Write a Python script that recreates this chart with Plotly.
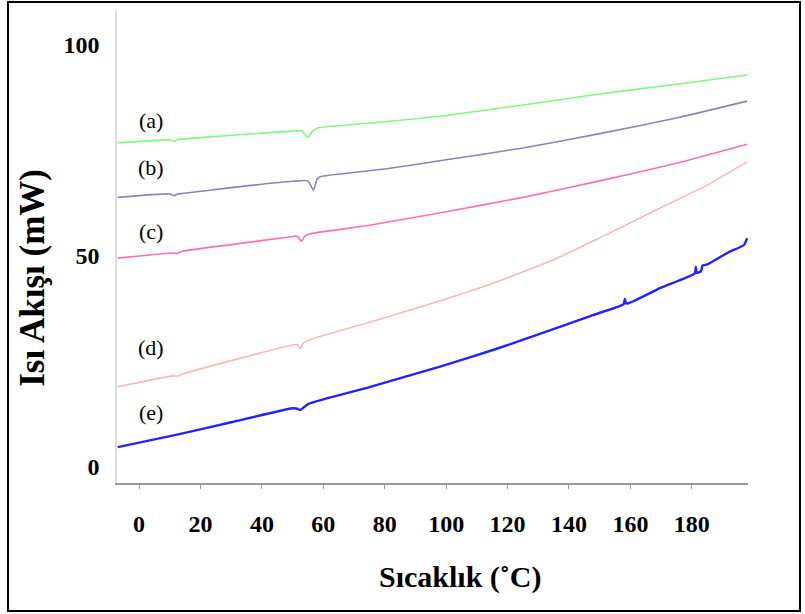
import plotly.graph_objects as go

# DSC heat-flow curves (a)-(e): temperature (°C) vs heat flow (mW)
temp_a = [-7, 10, 11.5, 12.5, 14, 30, 50, 53, 54.9, 56.5, 58, 80, 100, 125, 150, 175, 198]
flow_a = [76.8, 77.5, 77.2, 77.6, 77.7, 78.6, 79.6, 79.6, 78.1, 79.6, 80.3, 81.8, 83.3, 85.8, 88.4, 90.7, 92.9]

temp_b = [-7, 10, 11.5, 12.5, 14, 30, 50, 55, 56.8, 58, 59, 80, 100, 125, 150, 175, 198]
flow_b = [63.9, 64.7, 64.3, 64.7, 64.8, 66.2, 67.7, 67.8, 65.6, 68.3, 68.8, 70.6, 72.8, 75.6, 79.0, 82.7, 86.7]

temp_c = [-7, 11, 12.5, 14, 30, 50, 51.5, 52.8, 54, 55.4, 75, 100, 125, 150, 175, 198]
flow_c = [49.5, 50.7, 50.6, 51.1, 52.7, 54.6, 54.7, 53.5, 54.7, 55.2, 57.3, 60.5, 63.9, 67.8, 72.0, 76.5]

temp_d = [-7, 11, 12.5, 14, 30, 50, 51.5, 52.4, 53.5, 55.4, 75, 95, 115, 135, 150, 170, 185, 198]
flow_d = [19.0, 21.6, 21.5, 22.0, 25.2, 28.9, 29.0, 28.1, 29.4, 30.1, 34.3, 38.7, 43.5, 49.1, 54.3, 61.5, 66.8, 72.3]

temp_e = [-7, 12, 30, 50, 51.5, 52.5, 55, 75, 98, 116, 130, 147.8, 157.8, 158.2, 158.7,
          170, 181, 181.3, 181.6, 183, 183.5, 185, 192, 197, 198]
flow_e = [4.7, 7.6, 10.6, 13.9, 13.8, 13.5, 14.9, 18.9, 23.8, 27.9, 31.4, 36.0, 38.6, 39.8, 38.7,
          42.5, 45.9, 47.4, 46.0, 46.4, 47.7, 48.0, 50.9, 52.6, 54.2]

curve_labels = ["(a)", "(b)", "(c)", "(d)", "(e)"]
label_x = [3.9, 3.9, 3.9, 3.9, 3.9]
label_y = [82.2, 70.9, 55.9, 28.2, 12.8]

x_ticks = [0, 20, 40, 60, 80, 100, 120, 140, 160, 180]
y_ticks = [0, 50, 100]

series = [
    (temp_a, flow_a, "#80f880", 1.6),
    (temp_b, flow_b, "#8585c4", 1.6),
    (temp_c, flow_c, "#ff6fb4", 1.6),
    (temp_d, flow_d, "#ffb8b8", 1.6),
    (temp_e, flow_e, "#2222ff", 2.4),
]

fig = go.Figure()
for xs, ys, color, width in series:
    fig.add_trace(go.Scatter(x=xs, y=ys, mode="lines",
                             line=dict(color=color, width=width, shape="spline", smoothing=0.5),
                             hoverinfo="skip"))

serif = "'Liberation Serif'"

annotations = [
    dict(x=lx, y=ly, text=t, xref="x", yref="y", showarrow=False,
         xanchor="center", yanchor="middle",
         font=dict(family=serif, size=22, color="black"))
    for t, lx, ly in zip(curve_labels, label_x, label_y)
]
annotations.append(dict(x=0.5436, y=-0.199, xref="paper", yref="paper", text="Sıcaklık (˚C)",
                        xanchor="center", yanchor="middle", showarrow=False,
                        font=dict(family=serif, size=30, color="black", weight="bold")))
annotations.append(dict(x=-0.133, y=0.434, xref="paper", yref="paper", text="Isı Akışı (mW)",
                        xanchor="center", yanchor="middle", textangle=-90, showarrow=False,
                        font=dict(family=serif, size=35, color="black", weight="bold")))

fig.update_layout(
    width=805, height=614,
    margin=dict(l=117, r=57, t=10, b=131),
    plot_bgcolor="white", paper_bgcolor="white",
    showlegend=False,
    annotations=annotations,
    shapes=[dict(type="rect", xref="paper", yref="paper",
                 x0=-0.1727, x1=1.0824, y0=-0.2706, y1=1.0169,
                 line=dict(color="black", width=2), fillcolor="rgba(0,0,0,0)")],
)

fig.update_xaxes(
    range=[-7.2, 198.3], tickvals=x_ticks, ticks="outside", ticklen=4, tickcolor="#999999",
    showline=True, linecolor="#9a9a9a", linewidth=1.5, showgrid=False, zeroline=False,
    ticklabelstandoff=14,
    tickfont=dict(family=serif, size=24, color="black", weight="bold"),
)
fig.update_yaxes(
    range=[-3.8, 108.3], tickvals=y_ticks, ticks="",
    showline=True, linecolor="#dddddd", linewidth=1.5, showgrid=False, zeroline=False,
    ticklabelstandoff=11,
    tickfont=dict(family=serif, size=24, color="black", weight="bold"),
)

fig.write_html("out.html")
